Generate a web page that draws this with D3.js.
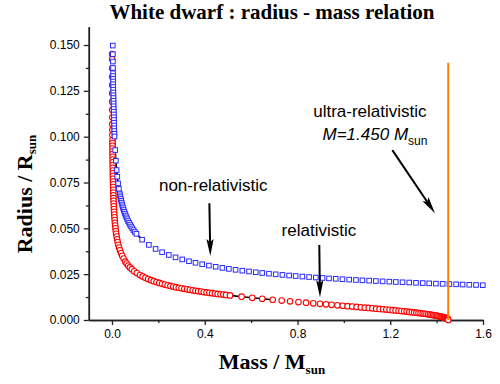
<!DOCTYPE html>
<html>
<head>
<meta charset="utf-8">
<script src="https://cdn.jsdelivr.net/npm/d3@7"></script>
<style>
  body { margin: 0; background: #fff; }
  svg { display: block; }
  .tick text { font-family: "Liberation Sans", Arial, sans-serif; font-size: 12px; fill: #000; }
</style>
</head>
<body>
<svg id="chart" width="500" height="384"></svg>
<script>
// Axis ticks
const massTicks = [0.0, 0.4, 0.8, 1.2, 1.6];
const massMinorTicks = [0.2, 0.6, 1.0, 1.4];
const radiusTicks = [0.000, 0.025, 0.050, 0.075, 0.100, 0.125, 0.150];
const radiusMinorTicks = [0.0125, 0.0375, 0.0625, 0.0875, 0.1125, 0.1375];

// Chandrasekhar limit (M / Msun) and the height of its marker line (R / Rsun)
const limitMass = 1.450;
const limitLineTop = 0.1404;

// Relativistic equation of state: mass and radius of each model star
const relMass = [
  0.0006, 0.0007, 0.0007, 0.0008, 0.0009, 0.0010, 0.0011, 0.0013, 0.0014, 0.0015,
  0.0017, 0.0018, 0.0020,
  0.0021, 0.0022, 0.0023, 0.0024, 0.0025, 0.0027, 0.0028, 0.0030, 0.0031, 0.0033,
  0.0035, 0.0037, 0.0039, 0.0041, 0.0044, 0.0046, 0.0049, 0.0053, 0.0056, 0.0060,
  0.0064, 0.0069, 0.0074, 0.0079, 0.0085, 0.0092, 0.0099, 0.0107, 0.0116, 0.0127,
  0.0138, 0.0151, 0.0165, 0.0181, 0.0200, 0.0221, 0.0245, 0.0273, 0.0306, 0.0343,
  0.0387, 0.0439, 0.0501, 0.0575,
  0.0632, 0.0698, 0.0772, 0.0858, 0.0957, 0.1072, 0.1206,
  0.132, 0.144, 0.156, 0.168, 0.180, 0.192, 0.204, 0.216, 0.228, 0.240,
  0.252, 0.264, 0.276, 0.288, 0.300, 0.312, 0.324, 0.336, 0.348, 0.360,
  0.372, 0.384, 0.396, 0.408, 0.420, 0.432, 0.444, 0.456, 0.468, 0.480, 0.492,
  0.509, 0.559, 0.605, 0.648, 0.693, 0.732, 0.768, 0.804, 0.837, 0.868,
  0.897, 0.923, 0.947, 0.972, 0.995, 1.016, 1.036, 1.055, 1.073, 1.090,
  1.107, 1.123, 1.139, 1.154, 1.169, 1.183, 1.197, 1.210, 1.223, 1.236,
  1.248, 1.260, 1.271, 1.282, 1.293, 1.303, 1.313, 1.322, 1.331, 1.340,
  1.348, 1.356, 1.364, 1.371, 1.378, 1.385, 1.391, 1.397, 1.403, 1.408,
  1.413, 1.418, 1.422, 1.426, 1.430, 1.433, 1.436, 1.439, 1.441, 1.443,
  1.445, 1.447, 1.448, 1.449, 1.450
];
const relRadius = [
  0.1450, 0.1422, 0.1373, 0.1327, 0.1282, 0.1237, 0.1191, 0.1146, 0.1106, 0.1068,
  0.1037, 0.1009, 0.0982,
  0.0965, 0.0950, 0.0935, 0.0920, 0.0905, 0.0890, 0.0875, 0.0860, 0.0845, 0.0830,
  0.0815, 0.0800, 0.0785, 0.0770, 0.0755, 0.0740, 0.0725, 0.0710, 0.0695, 0.0680,
  0.0665, 0.0650, 0.0635, 0.0620, 0.0605, 0.0590, 0.0575, 0.0560, 0.0545, 0.0530,
  0.0515, 0.0500, 0.0485, 0.0470, 0.0455, 0.0440, 0.0425, 0.0410, 0.0395, 0.0380,
  0.0365, 0.0350, 0.0335, 0.0318,
  0.0308, 0.0297, 0.0287, 0.0277, 0.0266, 0.0256, 0.0245,
  0.02375, 0.02302, 0.02235, 0.02174, 0.02119, 0.02067, 0.02020, 0.01975, 0.01934, 0.01895,
  0.01858, 0.01823, 0.01790, 0.01758, 0.01728, 0.01700, 0.01672, 0.01645, 0.01620, 0.01595,
  0.01571, 0.01548, 0.01526, 0.01504, 0.01483, 0.01462, 0.01442, 0.01423, 0.01404, 0.01385, 0.01367,
  0.01342, 0.01272, 0.01211, 0.01158, 0.01105, 0.01060, 0.01019, 0.00980, 0.00944, 0.00911,
  0.00881, 0.00853, 0.00828, 0.00802, 0.00777, 0.00755, 0.00734, 0.00713, 0.00694, 0.00675,
  0.00656, 0.00639, 0.00620, 0.00603, 0.00586, 0.00569, 0.00553, 0.00537, 0.00520, 0.00504,
  0.00488, 0.00473, 0.00458, 0.00442, 0.00427, 0.00412, 0.00397, 0.00383, 0.00369, 0.00354,
  0.00340, 0.00326, 0.00312, 0.00298, 0.00284, 0.00270, 0.00257, 0.00243, 0.00229, 0.00216,
  0.00203, 0.00188, 0.00176, 0.00163, 0.00149, 0.00137, 0.00125, 0.00110, 0.00100, 0.00088,
  0.00075, 0.00058, 0.00048, 0.00035, 0.00000
];

// Non-relativistic equation of state: mass and radius of each model star
const nonRelMass = [
  0.0033, 0.0036, 0.0039, 0.0042, 0.0045,
  0.0046, 0.0048, 0.0050, 0.0051, 0.0053, 0.0055, 0.0057, 0.0059, 0.0062, 0.0064,
  0.0066, 0.0069, 0.0072, 0.0075, 0.0078, 0.0081, 0.0084, 0.0088, 0.0092, 0.0096,
  0.0100, 0.0104, 0.0109,
  0.0137, 0.0167, 0.0200, 0.0229, 0.0265, 0.0299,
  0.0333, 0.0348, 0.0364, 0.0381, 0.0398, 0.0417, 0.0438, 0.0459, 0.0482, 0.0507,
  0.0533, 0.0561, 0.0591, 0.0623, 0.0658, 0.0695, 0.0735, 0.0778, 0.0825, 0.0875,
  0.0930, 0.0989, 0.1054,
  0.130, 0.159, 0.188, 0.216, 0.245, 0.274, 0.303, 0.332, 0.360, 0.389,
  0.418, 0.447, 0.476, 0.504, 0.533, 0.562, 0.591, 0.620, 0.648, 0.677,
  0.706, 0.735, 0.764, 0.792, 0.821, 0.850, 0.879, 0.908, 0.936, 0.965,
  0.994, 1.023, 1.052, 1.080, 1.109, 1.138, 1.167, 1.196, 1.224, 1.253,
  1.282, 1.311, 1.340, 1.368, 1.397, 1.426, 1.455, 1.484, 1.512, 1.541,
  1.570, 1.599
];
const nonRelRadius = [
  0.1497, 0.1450, 0.1410, 0.1375, 0.1346,
  0.1331, 0.1316, 0.1301, 0.1286, 0.1271, 0.1256, 0.1241, 0.1226, 0.1211, 0.1196,
  0.1181, 0.1166, 0.1151, 0.1136, 0.1121, 0.1106, 0.1091, 0.1076, 0.1061, 0.1046,
  0.1031, 0.1016, 0.1001,
  0.0927, 0.0869, 0.0818, 0.0782, 0.0745, 0.0715,
  0.0690, 0.0680, 0.0670, 0.0660, 0.0650, 0.0640, 0.0630, 0.0620, 0.0610, 0.0600,
  0.0590, 0.0580, 0.0570, 0.0560, 0.0550, 0.0540, 0.0530, 0.0520, 0.0510, 0.0500,
  0.0490, 0.0480, 0.0470,
  0.04382, 0.04097, 0.03875, 0.03700, 0.03548, 0.03418, 0.03305, 0.03206, 0.03121, 0.03042,
  0.02969, 0.02903, 0.02843, 0.02790, 0.02738, 0.02690, 0.02646, 0.02604, 0.02565, 0.02528,
  0.02493, 0.02460, 0.02428, 0.02399, 0.02371, 0.02344, 0.02317, 0.02293, 0.02269, 0.02247,
  0.02224, 0.02203, 0.02183, 0.02164, 0.02145, 0.02126, 0.02109, 0.02092, 0.02075, 0.02059,
  0.02044, 0.02028, 0.02014, 0.02000, 0.01986, 0.01972, 0.01959, 0.01946, 0.01934, 0.01922,
  0.01910, 0.01898
];

// Mass ranges where the connecting line between stars is drawn
const relLinkRanges = [[0.490, 0.695]];
const nonRelLinkRanges = [[0.0108, 0.0300], [0.1050, 0.1310]];

const relativistic = relMass.map((m, i) => ({ m, r: relRadius[i] }));
const nonRelativistic = nonRelMass.map((m, i) => ({ m, r: nonRelRadius[i] }));

const svg = d3.select("#chart");
const x = d3.scaleLinear().domain([-0.1, 1.6]).range([88.8, 483]);
const y = d3.scaleLinear().domain([0, 0.16]).range([320, 26.7]);

const serif = "'Liberation Serif', 'Times New Roman', serif";
const sans = "'Liberation Sans', Arial, sans-serif";

// Title
svg.append("text")
  .attr("x", 272).attr("y", 19)
  .attr("text-anchor", "middle")
  .style("font-family", serif).style("font-weight", "bold").style("font-size", "21px")
  .text("White dwarf : radius - mass relation");

// Axes
const axisColor = "#222";
function styleAxis(g) {
  g.select(".domain").attr("stroke", axisColor).attr("stroke-width", 1.5);
  g.selectAll(".tick line").attr("stroke", axisColor).attr("stroke-width", 1.3);
}

svg.append("g").attr("transform", "translate(0,320)")
  .call(d3.axisBottom(x).tickValues(massMinorTicks).tickSize(3).tickSizeOuter(0).tickFormat(() => ""))
  .call(styleAxis);
svg.append("g").attr("transform", "translate(0,320)")
  .call(d3.axisBottom(x).tickValues(massTicks).tickSize(5).tickSizeOuter(0).tickPadding(4)
    .tickFormat(d3.format(".1f")))
  .call(styleAxis);

svg.append("g").attr("transform", "translate(88.8,0)")
  .call(d3.axisLeft(y).tickValues(radiusMinorTicks).tickSize(3).tickSizeOuter(0).tickFormat(() => ""))
  .call(styleAxis);
svg.append("g").attr("transform", "translate(88.8,0)")
  .call(d3.axisLeft(y).tickValues(radiusTicks).tickSize(5).tickSizeOuter(0).tickPadding(4)
    .tickFormat(d3.format(".3f")))
  .call(styleAxis);

// Axis titles
svg.append("text")
  .attr("x", 272).attr("y", 369)
  .attr("text-anchor", "middle")
  .style("font-family", serif).style("font-weight", "bold").style("font-size", "22px")
  .text("Mass / M")
  .append("tspan").attr("dy", 5).style("font-size", "13px").text("sun");

svg.append("text")
  .attr("transform", "translate(32,194) rotate(-90)")
  .attr("text-anchor", "middle")
  .style("font-family", serif).style("font-weight", "bold").style("font-size", "22px")
  .text("Radius / R")
  .append("tspan").attr("dy", 4).style("font-size", "13px").text("sun");

// Connecting line segments
const line = d3.line().x(d => x(d.m)).y(d => y(d.r));
function drawLinks(data, ranges) {
  ranges.forEach(([lo, hi]) => {
    svg.append("path")
      .datum(data.filter(d => d.m >= lo && d.m <= hi))
      .attr("d", line)
      .attr("fill", "none").attr("stroke", "#000").attr("stroke-width", 1.6);
  });
}
drawLinks(relativistic, relLinkRanges);
drawLinks(nonRelativistic, nonRelLinkRanges);

// Relativistic stars: open red circles
svg.append("g").selectAll("circle").data(relativistic).join("circle")
  .attr("cx", d => x(d.m)).attr("cy", d => y(d.r)).attr("r", 2.8)
  .attr("fill", "#fff").attr("stroke", "#ff0000").attr("stroke-width", 1.1);

// Non-relativistic stars: open blue squares
const sq = 4.6;
svg.append("g").selectAll("rect").data(nonRelativistic).join("rect")
  .attr("x", d => x(d.m) - sq / 2).attr("y", d => y(d.r) - sq / 2)
  .attr("width", sq).attr("height", sq)
  .attr("fill", "#fff").attr("stroke", "#2a2aff").attr("stroke-width", 1);

// Chandrasekhar limit
svg.append("line")
  .attr("x1", x(limitMass)).attr("x2", x(limitMass))
  .attr("y1", y(0)).attr("y2", y(limitLineTop))
  .attr("stroke", "#ff8000").attr("stroke-width", 2);

// Annotations
function arrow(m1, r1, m2, r2) {
  const x1 = x(m1), y1 = y(r1), x2 = x(m2), y2 = y(r2);
  const len = Math.hypot(x2 - x1, y2 - y1);
  const ux = (x2 - x1) / len, uy = (y2 - y1) / len;
  const nx = -uy, ny = ux;
  const headLen = 17, halfW = 3.6, notch = 14;
  const bx = x2 - ux * headLen, by = y2 - uy * headLen;
  const cx = x2 - ux * notch, cy = y2 - uy * notch;
  svg.append("line")
    .attr("x1", x1).attr("y1", y1).attr("x2", cx).attr("y2", cy)
    .attr("stroke", "#000").attr("stroke-width", 2);
  svg.append("path")
    .attr("d", `M${x2},${y2} L${bx + nx * halfW},${by + ny * halfW} L${cx},${cy} L${bx - nx * halfW},${by - ny * halfW} Z`)
    .attr("fill", "#000");
}

function label(m, r, txt) {
  return svg.append("text")
    .attr("x", x(m)).attr("y", y(r))
    .style("font-family", sans).style("font-size", "17px")
    .text(txt);
}

label(0.2026, 0.0705, "non-relativistic");
arrow(0.420, 0.0637, 0.424, 0.0349);

label(0.7315, 0.0458, "relativistic");
arrow(0.894, 0.0409, 0.897, 0.0124);

label(0.8677, 0.1109, "ultra-relativistic");
const limitLabel = svg.append("text")
  .attr("x", x(0.908)).attr("y", y(0.0982))
  .style("font-family", sans).style("font-size", "17px").style("font-style", "italic")
  .text("M=1.450 M");
limitLabel.append("tspan").attr("dy", 5).style("font-size", "12px").style("font-style", "normal").text("sun");
arrow(1.209, 0.0927, 1.393, 0.0582);
</script>
</body>
</html>
